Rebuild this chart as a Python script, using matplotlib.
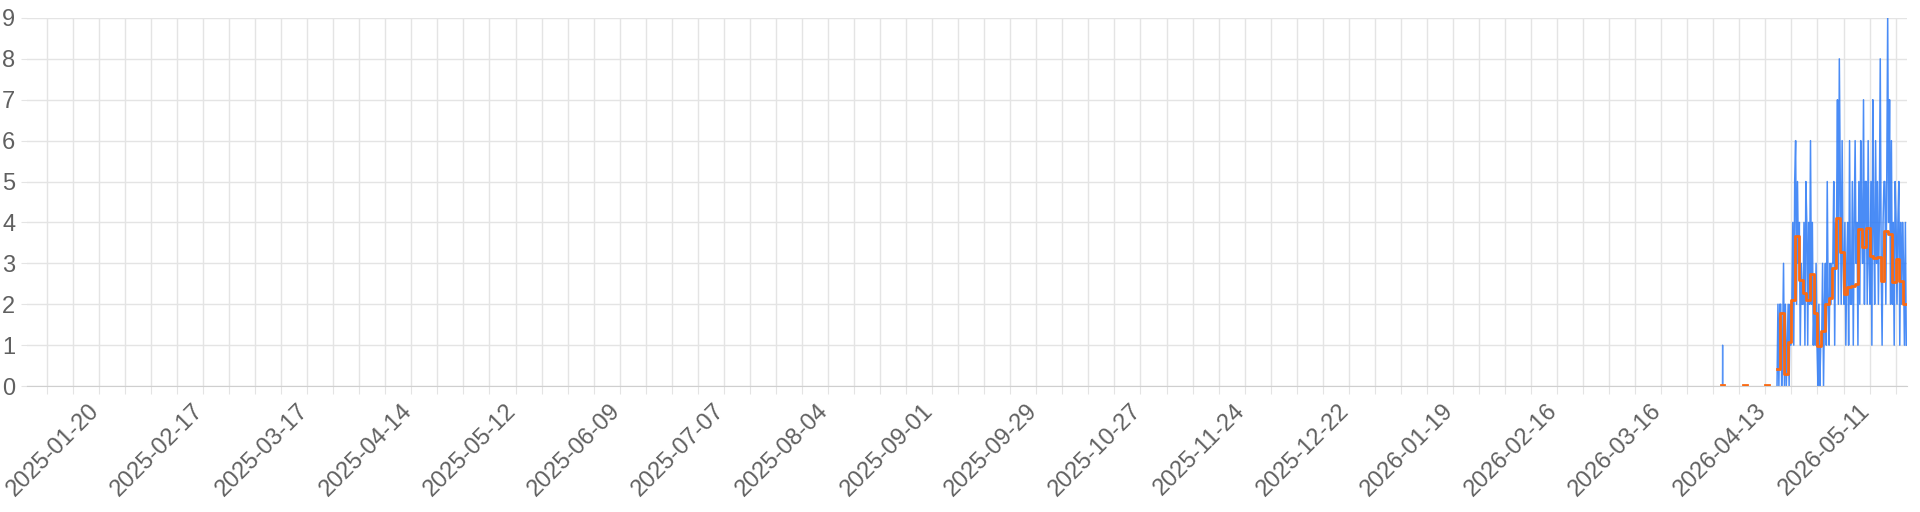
import matplotlib
matplotlib.use("Agg")
import matplotlib.pyplot as plt
import matplotlib.transforms as mtransforms
import numpy as np
import pandas as pd

# hourly-ish counts (4 readings per day, 00/06/12/18h), 2026-04-16 .. 2026-05-20
count_start = "2026-04-16"
count_vals = [
    [0, 2, 0, 2], [2, 0, 1, 3], [0, 2, 0, 1], [2, 0, 2, 1], [2, 4, 1, 5],
    [6, 2, 5, 3], [4, 1, 3, 2], [2, 4, 1, 5], [4, 1, 4, 2], [6, 2, 4, 1],
    [2, 1, 3, 1], [0, 2, 0, 1], [1, 3, 0, 2], [3, 1, 5, 2], [1, 3, 2, 3],
    [3, 5, 1, 4], [4, 7, 2, 8], [5, 2, 6, 3], [2, 4, 1, 3], [4, 1, 6, 2],
    [2, 5, 1, 4], [6, 3, 4, 1], [5, 2, 6, 4], [3, 7, 2, 5], [5, 2, 6, 3],
    [2, 5, 1, 7], [4, 2, 6, 3], [5, 2, 4, 8], [3, 1, 4, 5], [5, 2, 5, 9],
    [4, 7, 2, 6], [2, 4, 1, 5], [4, 2, 4, 5], [1, 4, 2, 4], [3, 1, 4, 1],
]
# isolated early hit
spike_time = "2026-04-01 12:00"
spike_val = 1

# daily average, 2026-04-01 .. 2026-05-20 (nan = no data)
avg_start = "2026-04-01"
avg_vals = [
    0.03, np.nan, np.nan, np.nan, np.nan, np.nan, 0.03, np.nan, np.nan, np.nan,
    np.nan, np.nan, 0.03, np.nan, np.nan,
    0.42, 1.78, 0.29, 1.08, 2.10, 3.67, 2.60, 2.28, 2.10, 2.75,
    1.78, 0.99, 1.35, 2.00, 2.16, 2.88, 4.10, 3.28, 2.24, 2.41,
    2.44, 2.49, 3.85, 3.40, 3.86, 3.19, 3.12, 3.16, 2.57, 3.80,
    3.71, 2.54, 3.10, 2.57, 2.00,
]

x_min = pd.Timestamp("2024-12-31 14:00")
x_max = pd.Timestamp("2026-05-21")
week_ticks = pd.date_range("2025-01-06", "2026-05-18", freq="7D")
label_ticks = pd.date_range("2025-01-20", "2026-05-18", freq="28D")

plt.rcParams["font.family"] = ["Liberation Sans", "DejaVu Sans"]

fig = plt.figure(figsize=(19.2, 5.12), dpi=100)
ax = fig.add_axes([0.0139, 0.246, 0.9792, 0.719])

grid_c = "#e4e4e4"
text_c = "#606060"

# blue counts
t = []
v = []
for i, day in enumerate(count_vals):
    d0 = pd.Timestamp(count_start) + pd.Timedelta(days=i)
    for j, val in enumerate(day):
        t.append(d0 + pd.Timedelta(hours=6 * j + 3))
        v.append(val)
ax.plot(t, v, color="#2a78f5", lw=1.1, alpha=0.85, zorder=2)
st = pd.Timestamp(spike_time)
ax.plot([st - pd.Timedelta(hours=1), st, st + pd.Timedelta(hours=1)],
        [0, spike_val, 0], color="#2a78f5", lw=1.0, alpha=0.8, zorder=2)

# orange daily average as steps
ad = list(pd.date_range(avg_start, periods=len(avg_vals), freq="D"))
ad.append(ad[-1] + pd.Timedelta(days=1))
av = list(avg_vals) + [avg_vals[-1]]
ax.plot(ad, av, drawstyle="steps-post", color="#f96a14", lw=2.0, zorder=3)

ax.set_xlim(x_min, x_max)
ax.set_ylim(0, 9)
ax.set_yticks(range(10))

ax.set_xticks(week_ticks)
label_set = set(label_ticks)
labels = [d.strftime("%Y-%m-%d") if d in label_set else "" for d in week_ticks]
ax.set_xticklabels(labels, rotation=45, ha="right", va="top")

ax.grid(True, color=grid_c, lw=1.0)
ax.set_axisbelow(True)
for s in ["top", "right", "left"]:
    ax.spines[s].set_visible(False)
ax.spines["bottom"].set_color("#cfcfcf")
ax.tick_params(axis="both", color=grid_c, labelcolor=text_c, labelsize=17)
ax.tick_params(axis="x", length=5.8, pad=4)
ax.tick_params(axis="y", length=4.3, pad=4)

# nudge rotated labels so the ink ends at the tick
shift = mtransforms.ScaledTranslation(0.05, 0.0, fig.dpi_scale_trans)
for lab in ax.get_xticklabels():
    lab.set_transform(lab.get_transform() + shift)

fig.savefig("out.png", dpi=100)
